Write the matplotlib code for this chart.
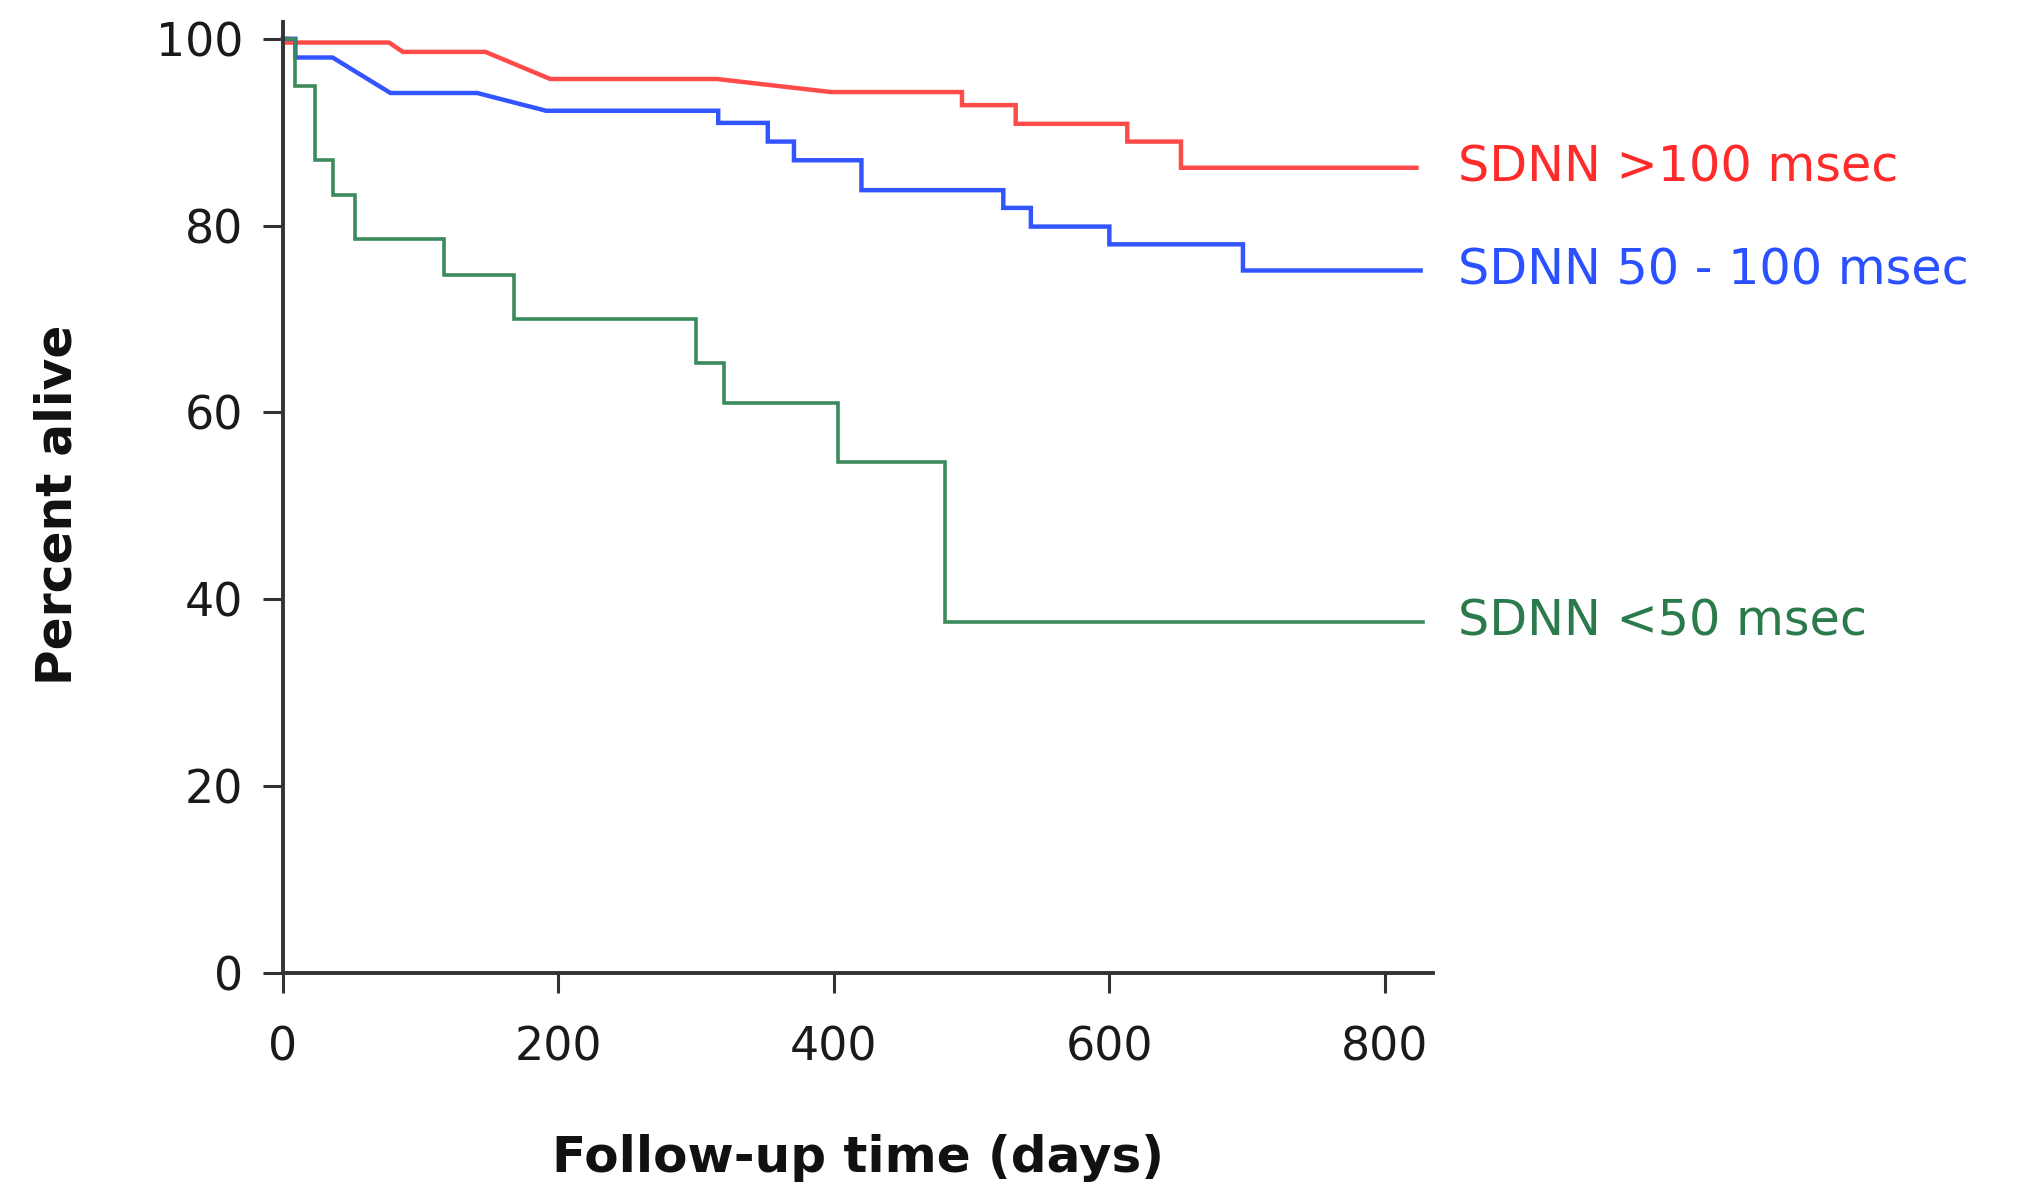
import matplotlib
matplotlib.use("Agg")
import matplotlib.pyplot as plt

# ---- data (days, percent alive) ----
high_t = [0, 3, 3, 77, 87, 147, 194, 315, 398, 493, 493, 532, 532, 613, 613, 652, 652, 823]
high_p = [100, 100, 99.6, 99.6, 98.6, 98.6, 95.7, 95.7, 94.3, 94.3, 92.9, 92.9, 90.9, 90.9, 89.0, 89.0, 86.2, 86.2]

mid_t = [0, 9, 9, 36, 78, 141, 191, 316, 316, 352, 352, 371, 371, 420, 420, 523, 523, 543, 543,
         600, 600, 697, 697, 826]
mid_p = [100, 100, 98.0, 98.0, 94.2, 94.2, 92.3, 92.3, 91.0, 91.0, 89.0, 89.0, 87.0, 87.0, 83.8,
         83.8, 81.9, 81.9, 79.9, 79.9, 78.0, 78.0, 75.2, 75.2]

low_t = [0, 9, 9, 23, 23, 36, 36, 52, 52, 117, 117, 168, 168, 300, 300, 320, 320, 403, 403,
         481, 481, 828]
low_p = [100, 100, 95.0, 95.0, 87.0, 87.0, 83.3, 83.3, 78.6, 78.6, 74.7, 74.7, 70.0, 70.0, 65.3,
         65.3, 61.0, 61.0, 54.7, 54.7, 37.6, 37.6]

labels = ["SDNN >100 msec", "SDNN 50 - 100 msec", "SDNN <50 msec"]
line_colors = ["#ff4a4a", "#3355ff", "#3a8a5c"]
text_colors = ["#ff2a2a", "#2a50ff", "#2a7a4c"]
x_ticks = [0, 200, 400, 600, 800]
y_ticks = [0, 20, 40, 60, 80, 100]

fig = plt.figure(figsize=(20.29, 11.85), dpi=100)
ax = fig.add_axes([283 / 2029, 1 - 973 / 1185, (1433 - 283) / 2029, (973 - 22) / 1185])

series = [(high_t, high_p), (mid_t, mid_p), (low_t, low_p)]
widths = [3.2, 3.2, 2.6]
for (t, p), c, lw in zip(series, line_colors, widths):
    ax.plot(t, p, color=c, lw=lw, solid_joinstyle="miter", clip_on=False)

for (t, p), lab, c in zip(series, labels, text_colors):
    ax.text(853, p[-1], lab, color=c, fontsize=35.5, va="center", ha="left",
            family="DejaVu Sans", clip_on=False)

ax.set_xlim(0, 835)
ax.set_ylim(0, 101.8)
ax.set_xticks(x_ticks)
ax.set_yticks(y_ticks)
for s in ["top", "right"]:
    ax.spines[s].set_visible(False)
for s in ["left", "bottom"]:
    ax.spines[s].set_linewidth(2.8)
    ax.spines[s].set_color("#333333")
ax.tick_params(axis="both", direction="out", length=14.5, width=2.2, color="#333333",
               labelsize=33, labelcolor="#1a1a1a")
ax.tick_params(axis="y", pad=14)
ax.tick_params(axis="x", pad=23)

ax.set_xlabel("Follow-up time (days)", fontsize=36, fontweight="bold", color="#111111")
ax.set_ylabel("Percent alive", fontsize=35, fontweight="bold", color="#111111")
ax.xaxis.set_label_coords(0.5, (973 - 1158) / 951)
ax.xaxis.label.set_va("center")
ax.yaxis.set_label_coords((58 - 283) / 1150, 0.492)
ax.yaxis.label.set_va("center")

fig.savefig("out.png", dpi=100, facecolor="white")
